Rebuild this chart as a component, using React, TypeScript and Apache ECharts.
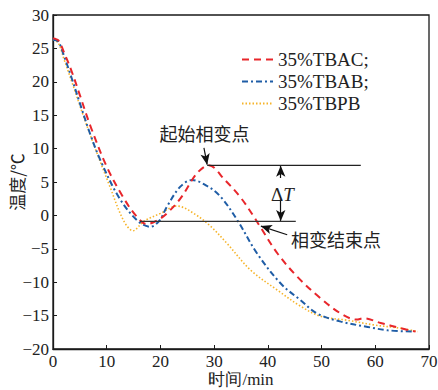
import React, { useEffect, useRef } from "react";
import * as echarts from "echarts";

// time (min) and temperature (°C) for each sample
const timeTBAC = [0, 1, 2, 3.5, 5, 7, 10, 13, 15.6, 17.5, 19.5, 21.2, 23.7, 26.8, 29, 32, 35, 37.4, 38.5, 41.8, 45.5, 49.8, 53.6, 56.5, 57.8, 61, 64.8, 67.5];
const tempTBAC = [26.5, 26.2, 24.5, 21.5, 18, 13.3, 7.3, 2.8, -0.2, -1.3, -0.7, 0.3, 2.5, 6.3, 7.5, 5.3, 2.6, -0.2, -1.6, -5.7, -9.2, -12.4, -14.7, -15.6, -15.4, -16.1, -16.9, -17.4];

const timeTBAB = [0, 1, 2, 3.5, 5, 7, 8.8, 12.2, 15.6, 18.1, 19.8, 21.2, 23.7, 25.9, 28.7, 31.2, 34.3, 38, 42.4, 46.1, 49.2, 53.6, 58.6, 62.3, 67.3];
const tempTBAB = [26.3, 26, 24, 20.5, 16.8, 12, 8.3, 2.8, -0.7, -1.7, -0.8, 1.3, 4.3, 5.3, 4.4, 2.8, -0.7, -5.7, -10.2, -12.7, -14.7, -15.9, -16.7, -17.2, -17.4];

const timeTBPB = [0, 1, 2, 3.8, 5.7, 8.2, 10.6, 13.1, 14.9, 16.9, 20, 23.1, 26.2, 29.3, 32.4, 36.8, 41.8, 46.1, 49.8, 54.8, 59.8, 64.8, 67.9];
const tempTBPB = [26.3, 25.8, 23.5, 19.3, 14.8, 9.3, 4.3, -0.7, -2.3, -0.9, 0.3, 1.4, 0.3, -1.6, -4.2, -8.2, -11.2, -13.6, -15.1, -15.7, -16.4, -16.9, -17.4];

const seriesNames = ["35%TBAC;", "35%TBAB;", "35%TBPB"];

// annotation reference lines (min, °C)
const startLineX = [28.7, 57.3];
const startLineY = [7.5, 7.5];
const endLineX = [16.2, 45.2];
const endLineY = [-0.9, -0.9];

const xTicks = { min: 0, max: 70, interval: 10 };
const yTicks = { min: -20, max: 30, interval: 5 };

const zip = (xs: number[], ys: number[]) => xs.map((x, i) => [x, ys[i]]);

export default function App() {
  const ref = useRef<HTMLDivElement>(null);
  useEffect(() => {
    const chart = echarts.init(ref.current!, null, { renderer: "svg" });
    const serif = "Liberation Serif";
    const cjk = "Noto Sans CJK SC";
    const fmt = (v: number) => String(v).replace("-", "\u2212");
    const axisColor = "#1a1a1a";
    const textColor = "#222";

    chart.setOption({
      animation: false,
      grid: {
        left: 53, right: 9, top: 15, bottom: 41,
        containLabel: false, outerBoundsMode: "none",
        show: true, borderColor: axisColor, borderWidth: 1.3,
      },
      legend: {
        orient: "vertical",
        left: 236,
        top: 45,
        itemWidth: 31,
        itemHeight: 14,
        itemGap: 3,
        data: seriesNames,
        itemStyle: { opacity: 0 },
        textStyle: { fontFamily: serif, fontSize: 19, color: textColor },
        selectedMode: false,
      },
      xAxis: {
        type: "value",
        ...xTicks,
        name: "时间/min",
        nameLocation: "middle",
        nameGap: 22,
        nameMoveOverlap: false,
        nameTextStyle: { fontFamily: serif, fontSize: 17, color: textColor },
        axisLine: { show: true, onZero: false, lineStyle: { color: axisColor, width: 1.3 } },
        axisTick: { show: true, inside: true, length: 4, lineStyle: { color: axisColor } },
        axisLabel: { margin: 4, fontFamily: serif, fontSize: 17, color: textColor, formatter: fmt },
        splitLine: { show: false },
      },
      yAxis: {
        type: "value",
        ...yTicks,
        name: "温度/℃",
        nameLocation: "middle",
        nameGap: 28,
        nameMoveOverlap: false,
        nameTextStyle: { fontFamily: cjk, fontSize: 17, color: textColor },
        axisLine: { show: true, onZero: false, lineStyle: { color: axisColor, width: 1.3 } },
        axisTick: { show: true, inside: true, length: 4, lineStyle: { color: axisColor } },
        axisLabel: { margin: 4, fontFamily: serif, fontSize: 17, color: textColor, formatter: fmt },
        splitLine: { show: false },
      },
      series: [
        {
          name: seriesNames[2],
          type: "line",
          data: zip(timeTBPB, tempTBPB),
          symbol: "none",
          smooth: 0.35,
          lineStyle: { color: "#f6b42a", width: 1.6, type: [1.5, 2] },
          itemStyle: { color: "#f6b42a" },
          z: 2,
        },
        {
          name: seriesNames[1],
          type: "line",
          data: zip(timeTBAB, tempTBAB),
          symbol: "none",
          smooth: 0.35,
          lineStyle: { color: "#1f5da6", width: 2, type: [6, 3, 2, 3] },
          itemStyle: { color: "#1f5da6" },
          z: 3,
        },
        {
          name: seriesNames[0],
          type: "line",
          data: zip(timeTBAC, tempTBAC),
          symbol: "none",
          smooth: 0.35,
          lineStyle: { color: "#e8262b", width: 2, type: [7, 5] },
          itemStyle: { color: "#e8262b" },
          z: 4,
        },
        {
          name: "start",
          type: "line",
          data: zip(startLineX, startLineY),
          symbol: "none",
          silent: true,
          lineStyle: { color: "#222", width: 1.3 },
          z: 5,
          markLine: {
            silent: true,
            symbol: ["none", "arrow"],
            symbolSize: [7, 11],
            label: { show: false },
            lineStyle: { color: "#111", width: 1.2, type: "solid" },
            data: [
              [{ coord: [28.1, 10.1] }, { coord: [28.7, 7.6] }],
              [{ coord: [42.4, 5.6] }, { coord: [42.4, 7.45] }],
              [{ coord: [42.4, 2.4] }, { coord: [42.4, -0.85] }],
              [{ coord: [43.6, -2.9] }, { coord: [38.7, -1.6] }],
            ],
          },
          markPoint: {
            silent: true,
            symbol: "circle",
            symbolSize: 0,
            data: [
              { coord: [28.2, 12.3], label: { formatter: "起始相变点" } },
              { coord: [52.7, -3.6], label: { formatter: "相变结束点" } },
              { coord: [42.7, 3.1], label: { formatter: "{a|Δ}{b|T}" } },
            ],
            label: {
              show: true,
              position: "inside",
              fontFamily: cjk,
              fontSize: 18,
              color: textColor,
              rich: {
                a: { fontFamily: serif, fontSize: 19, color: textColor },
                b: { fontFamily: serif, fontSize: 19, fontStyle: "italic", color: textColor },
              },
            },
          },
        },
        {
          name: "end",
          type: "line",
          data: zip(endLineX, endLineY),
          symbol: "none",
          silent: true,
          lineStyle: { color: "#333", width: 1.4 },
          z: 5,
        },
      ],
    });
    return () => chart.dispose();
  }, []);
  return <div ref={ref} style={{ position: "absolute", left: 0, top: 0, width: 438, height: 390 }} />;
}
